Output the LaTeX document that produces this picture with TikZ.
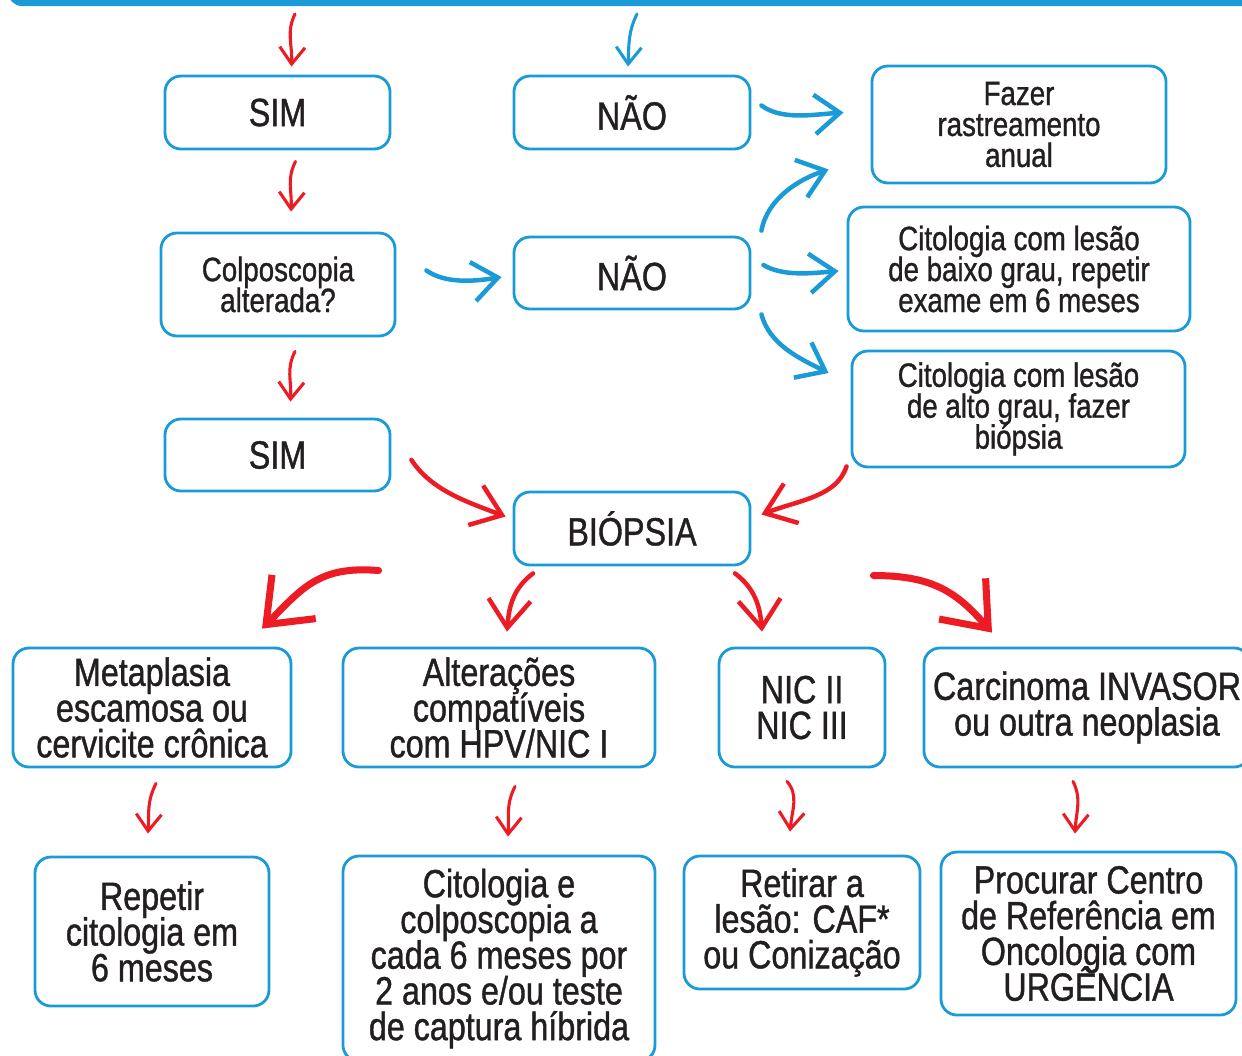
\documentclass[tikz,border=0pt]{standalone}
\usepackage{fontspec}
\setmainfont[FakeStretch=0.82, FakeBold=1]{Liberation Sans}
\usepackage{tikz}
\usetikzlibrary{arrows.meta, positioning, calc}
\definecolor{boxblue}{HTML}{1A9BD7}
\definecolor{arrowred}{HTML}{ED1C24}
\definecolor{textgray}{HTML}{231F20}
\newcommand{\tightlines}{\lineskiplimit -20pt\relax}
\tikzset{
    box/.style={
        rectangle,
        draw=boxblue,
        line width=2pt,
        rounded corners=0.4cm,
        fill=white,
        align=center,
        inner sep=0pt,
        text=textgray
    },
    smalltext/.style={
        font=\fontsize{24}{22}\selectfont\tightlines
    },
    wordtext/.style={
        font=\fontsize{28}{28}\selectfont
    },
    bigtext/.style={
        font=\fontsize{28}{25.4}\selectfont\tightlines
    },
    redsmall/.style={
        draw=arrowred,
        line width=2.2pt,
        line cap=round,
        -{Straight Barb[length=12pt, width=18pt]}
    },
    redmid/.style={
        draw=arrowred,
        line width=3.2pt,
        line cap=round,
        -{Straight Barb[length=20pt, width=30pt]}
    },
    redbig/.style={
        draw=arrowred,
        line width=5pt,
        line cap=round,
        -{Straight Barb[length=28pt, width=44pt]}
    },
    bluemid/.style={
        draw=boxblue,
        line width=3.2pt,
        line cap=round,
        -{Straight Barb[length=18pt, width=28pt]}
    },
    bluesmall/.style={
        draw=boxblue,
        line width=2.2pt,
        line cap=round,
        -{Straight Barb[length=12pt, width=18pt]}
    }
}

\begin{document}
\begin{tikzpicture}[x=0.025cm, y=-0.025cm]

\useasboundingbox (0,0) rectangle (1242,1055);
\fill[boxblue, rounded corners=0.35cm] (8,-40) rectangle (1300,6);

\coordinate (in1) at (295,14);
\coordinate (in2) at (637,14);

\node[box, wordtext, minimum width=5.625cm, minimum height=1.825cm] (sim1) at (277.5,112.5) {SIM};
\node[box, wordtext, minimum width=5.9cm, minimum height=1.825cm] (nao1) at (632,112.5) {NÃO};
\node[box, smalltext, minimum width=7.35cm, minimum height=2.925cm] (fazer) at (1019,124.5) {Fazer\\rastreamento\\anual};

\node[box, smalltext, minimum width=5.85cm, minimum height=2.575cm] (colp) at (278,284.5) {Colposcopia\\alterada?};
\node[box, wordtext, minimum width=5.9cm, minimum height=1.8cm] (nao2) at (632,273) {NÃO};
\node[box, smalltext, minimum width=8.55cm, minimum height=3.1cm] (baixo) at (1019,269) {Citologia com lesão\\de baixo grau, repetir\\exame em 6 meses};

\node[box, wordtext, minimum width=5.625cm, minimum height=1.8cm] (sim2) at (277.5,455) {SIM};
\node[box, smalltext, minimum width=8.325cm, minimum height=2.9cm] (alto) at (1018.5,409) {Citologia com lesão\\de alto grau, fazer\\biópsia};
\node[box, wordtext, minimum width=5.9cm, minimum height=1.825cm] (biop) at (632,528.5) {BIÓPSIA};

\node[box, bigtext, minimum width=6.95cm, minimum height=2.975cm] (meta) at (152,707.5) {Metaplasia\\escamosa ou\\cervicite crônica};
\node[box, bigtext, minimum width=7.8cm, minimum height=2.975cm] (alter) at (499,707.5) {Alterações\\compatíveis\\com HPV/NIC I};
\node[box, bigtext, minimum width=4.15cm, minimum height=2.975cm] (nic) at (802,707.5) {NIC II\\NIC III};
\node[box, bigtext, minimum width=8.15cm, minimum height=2.975cm] (carc) at (1087,707.5) {Carcinoma INVASOR\\ou outra neoplasia};

\node[box, bigtext, minimum width=5.85cm, minimum height=3.725cm] (repetir) at (152,931.5) {Repetir\\citologia em\\6 meses};
\node[box, bigtext, minimum width=7.8cm, minimum height=5.125cm] (citcol) at (499,958.5) {Citologia e\\colposcopia a\\cada 6 meses por\\2 anos e/ou teste\\de captura híbrida};
\node[box, bigtext, minimum width=5.9cm, minimum height=3.325cm] (retirar) at (802,922.5) {Retirar a\\lesão: CAF*\\ou Conização};
\node[box, bigtext, minimum width=7.375cm, minimum height=4.075cm] (procurar) at (1088.5,933.5) {Procurar Centro\\de Referência em\\Oncologia com\\URGÊNCIA};

\draw[redsmall] (in1) .. controls +(-9,18) and +(1,-22) .. ($(sim1.north)+(14,-8)$);
\draw[bluesmall] (in2) .. controls +(-9,18) and +(1,-22) .. ($(nao1.north)+(-4,-8)$);
\draw[redsmall] ($(sim1.south)+(18,11)$) .. controls +(-9,18) and +(1,-22) .. ($(colp.north)+(13,-20)$);
\draw[redsmall] ($(colp.south)+(17,14)$) .. controls +(-9,18) and +(1,-22) .. ($(sim2.north)+(13,-16)$);

\draw[bluemid] ($(colp.east)+(30,-14)$) .. controls +(20,14) and +(-25,4) .. ($(nao2.west)+(-11,4)$);
\draw[bluemid] ($(nao1.east)+(10,-7)$) .. controls +(20,15) and +(-30,2) .. ($(fazer.west)+(-27,-12)$);
\draw[bluemid] ($(nao2.north east)+(10,-5)$) .. controls +(6,-32) and +(-30,10) .. ($(fazer.south west)+(-42,-15)$);
\draw[bluemid] ($(nao2.east)+(12,-8)$) .. controls +(20,12) and +(-25,2) .. ($(baixo.west)+(-8,2)$);
\draw[bluemid] ($(nao2.south east)+(10,4)$) .. controls +(8,30) and +(-30,-15) .. ($(alto.west)+(-22,-36)$);

\draw[redmid] ($(sim2.east)+(20,5)$) .. controls +(20,30) and +(-40,-15) .. ($(biop.west)+(-7,-12)$);
\draw[redmid] ($(alto.south west)+(-4,-2)$) .. controls +(-10,30) and +(40,-15) .. ($(biop.east)+(10,-14)$);

\draw[redbig] ($(biop.west)+(-134,42)$) .. controls +(-60,-5) and +(40,-40) .. ($(meta.north)+(110,-18)$);
\draw[redmid] ($(biop.south)+(-99,7)$) .. controls +(-20,15) and +(2,-25) .. ($(alter.north)+(8,-15)$);
\draw[redmid] ($(biop.south)+(103,7)$) .. controls +(20,15) and +(-2,-25) .. ($(nic.north)+(-40,-15)$);
\draw[redbig] ($(biop.east)+(122,47)$) .. controls +(60,0) and +(-35,-40) .. ($(carc.north)+(-95,-14)$);

\draw[redsmall] ($(meta.south)+(4,15)$) .. controls +(-9,18) and +(1,-22) .. ($(repetir.north)+(-4,-22)$);
\draw[redsmall] ($(alter.south)+(16,18)$) .. controls +(-9,18) and +(1,-22) .. ($(citcol.north)+(9,-18)$);
\draw[redsmall] ($(nic.south)+(-15,13)$) .. controls +(12,14) and +(2,-22) .. ($(retirar.north)+(-12,-23)$);
\draw[redsmall] ($(carc.south)+(-14,13)$) .. controls +(9,18) and +(1,-22) .. ($(procurar.north)+(-13.5,-17)$);

\end{tikzpicture}
\end{document}
